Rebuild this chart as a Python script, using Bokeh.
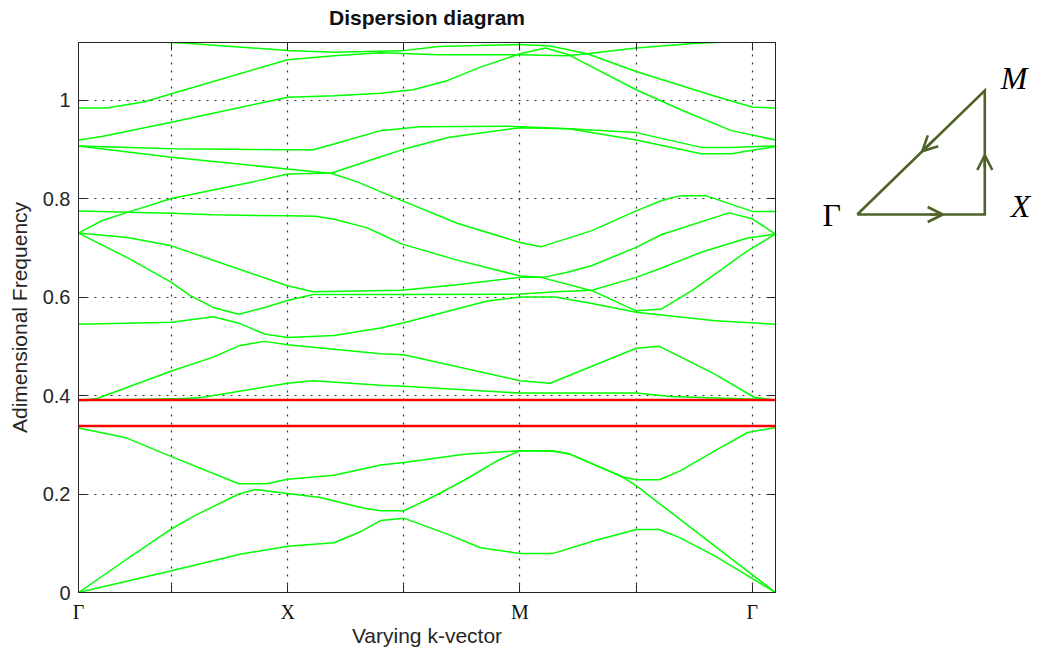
from bokeh.plotting import figure
from bokeh.models import Range1d, FixedTicker, LinearAxis, Span, NumeralTickFormatter, Arrow, OpenHead, CustomJSTickFormatter
from bokeh.layouts import row
from bokeh.embed import file_html
from bokeh.resources import INLINE
from bokeh.core.properties import value

# ---------------- data ----------------
k_min, k_max, f_max = 1, 31, 1.117
k_ticks = [5, 10, 15, 20, 25, 30]
f_ticks = [0, 0.2, 0.4, 0.6, 0.8, 1.0]
sym_labels = ["Γ", "X", "M", "Γ"]
sym_k = [1, 10, 20, 30]
gap_edges = [0.338, 0.391]

band1_k = [1, 5, 8, 10, 12, 13.2, 14, 15, 16.9, 18.3, 20, 21.4, 23.2, 25, 26, 26.9, 28.4, 31]
band1_f = [0, 0.044, 0.078, 0.094, 0.101, 0.125, 0.146, 0.151, 0.118, 0.091, 0.079, 0.079, 0.105, 0.128, 0.128, 0.111, 0.074, 0]

band2_k = [1, 3, 5, 6, 7.9, 8.6, 10, 11.4, 13.2, 14, 15, 16.2, 17.6, 19, 20, 21.4, 22.1, 24.4, 25, 31]
band2_f = [0, 0.065, 0.129, 0.156, 0.200, 0.209, 0.201, 0.193, 0.172, 0.166, 0.166, 0.193, 0.228, 0.267, 0.288, 0.288, 0.282, 0.235, 0.217, 0]

band3_k = [1, 3, 5, 7.9, 9.1, 10, 12, 14, 15, 17.6, 20, 21.4, 22.1, 24.4, 25, 26, 26.9, 28.4, 29.8, 31]
band3_f = [0.334, 0.315, 0.276, 0.221, 0.221, 0.230, 0.238, 0.259, 0.264, 0.281, 0.288, 0.287, 0.282, 0.235, 0.229, 0.229, 0.247, 0.288, 0.325, 0.335]

band4_k = [1, 5.5, 6.3, 10, 11.1, 14, 15, 20, 25, 26.5, 28.4, 31]
band4_f = [0.390, 0.394, 0.396, 0.425, 0.430, 0.421, 0.419, 0.405, 0.405, 0.398, 0.395, 0.391]

band5_k = [1, 1.8, 5, 6.8, 7.9, 9, 10, 12, 14, 15, 20, 21.3, 25, 26, 28.4, 30.1, 31]
band5_f = [0.390, 0.394, 0.450, 0.478, 0.501, 0.510, 0.503, 0.494, 0.485, 0.483, 0.430, 0.425, 0.496, 0.500, 0.443, 0.396, 0.391]

band6_k = [1, 5, 6.8, 7.9, 9, 10, 12, 14, 15, 18.6, 20, 21.5, 23.1, 25, 28.4, 31]
band6_f = [0.545, 0.549, 0.560, 0.547, 0.525, 0.518, 0.522, 0.537, 0.548, 0.592, 0.600, 0.600, 0.587, 0.569, 0.552, 0.545]

band7_k = [1, 3.1, 5, 5.8, 6.8, 7.9, 9, 10, 11.1, 14.9, 20, 21.6, 23.1, 25, 26.1, 27.8, 29.8, 31]
band7_f = [0.730, 0.680, 0.630, 0.603, 0.579, 0.565, 0.579, 0.593, 0.605, 0.605, 0.606, 0.611, 0.614, 0.640, 0.659, 0.691, 0.720, 0.728]

band8_k = [1, 3.1, 5, 7.7, 10, 11.1, 14.9, 17.3, 20, 21, 22, 23.1, 25, 26.1, 29, 30, 31]
band8_f = [0.730, 0.721, 0.704, 0.660, 0.623, 0.611, 0.614, 0.625, 0.640, 0.640, 0.650, 0.664, 0.701, 0.727, 0.771, 0.759, 0.728]

band9_k = [1, 5, 6.8, 10, 11.2, 12, 13.4, 14, 14.9, 17.3, 20, 20.9, 23.1, 25, 26.1, 27.4, 29.8, 31]
band9_f = [0.775, 0.770, 0.767, 0.765, 0.764, 0.758, 0.741, 0.728, 0.708, 0.675, 0.643, 0.640, 0.613, 0.572, 0.576, 0.613, 0.694, 0.728]

band10_k = [1, 5, 10, 11.9, 13, 14.45, 17.3, 20, 20.9, 23.1, 25, 26.1, 26.9, 28, 30, 31]
band10_f = [0.907, 0.884, 0.860, 0.851, 0.834, 0.805, 0.750, 0.711, 0.702, 0.735, 0.775, 0.796, 0.806, 0.806, 0.774, 0.774]

band11_k = [1, 2, 3.1, 5, 8.7, 10, 11.9, 14, 15, 16.9, 20, 22.1, 25, 27.8, 29.1, 30, 31]
band11_f = [0.730, 0.755, 0.772, 0.800, 0.836, 0.850, 0.852, 0.885, 0.900, 0.924, 0.944, 0.942, 0.919, 0.891, 0.891, 0.898, 0.906]

band12_k = [1, 5, 10, 11.1, 12, 14, 15.7, 19.5, 22.1, 25, 27.8, 29.1, 31]
band12_f = [0.907, 0.901, 0.899, 0.899, 0.911, 0.938, 0.946, 0.947, 0.942, 0.934, 0.904, 0.904, 0.907]

band13_k = [1, 2, 5, 10, 12, 14, 15.4, 16.9, 18.3, 20, 21.1, 22.1, 25, 27, 29.1, 31]
band13_f = [0.919, 0.926, 0.955, 1.006, 1.009, 1.014, 1.021, 1.040, 1.067, 1.094, 1.106, 1.092, 1.021, 0.979, 0.938, 0.919]

band14_k = [1, 2.2, 3.8, 5, 10, 12, 14, 16.5, 20, 22, 22.9, 25, 27.5, 28.4, 31]
band14_f = [0.984, 0.984, 0.996, 1.013, 1.082, 1.090, 1.096, 1.092, 1.092, 1.090, 1.094, 1.106, 1.115, 1.117, 1.135]

band15_k = [1, 4.4, 5.5, 10, 12, 14.9, 16.5, 20, 21.3, 22.9, 25, 28.4, 30, 31]
band15_f = [1.135, 1.118, 1.116, 1.101, 1.097, 1.100, 1.109, 1.113, 1.110, 1.094, 1.058, 1.008, 0.986, 0.984]

bands = [(band1_k, band1_f), (band2_k, band2_f), (band3_k, band3_f), (band4_k, band4_f),
         (band5_k, band5_f), (band6_k, band6_f), (band7_k, band7_f), (band8_k, band8_f),
         (band9_k, band9_f), (band10_k, band10_f), (band11_k, band11_f), (band12_k, band12_f),
         (band13_k, band13_f), (band14_k, band14_f), (band15_k, band15_f)]

# inset: irreducible Brillouin zone path (unit triangle)
ibz_names = ["Γ", "X", "M"]
ibz_x = [0, 1, 1]
ibz_y = [0, 0, 1]
arrow_frac = [0.67, 0.48, 0.49]

# ---------------- styles ----------------
GREEN = "#00ff00"
RED = "#ff0000"
AX = "#262626"
OLIVE = "#4f6228"
SANS = "Liberation Sans"
SERIF = "Liberation Serif"
FS = "20px"
FL = "21px"

p = figure(width=790, height=654, output_backend="svg", toolbar_location=None,
           x_range=Range1d(k_min, k_max), y_range=Range1d(0, f_max),
           min_border_left=78, min_border_right=15, min_border_top=42, min_border_bottom=62,
           background_fill_color="white", border_fill_color="white")

p.title.text = "Dispersion diagram"
p.title.text_font = SANS
p.title.text_font_size = "21px"
p.title.text_font_style = "bold"
p.title.text_color = "#111111"
p.title.align = "center"
p.title.standoff = 2

p.outline_line_color = AX
p.outline_line_width = 1

xa = p.below[0]
ya = p.left[0]
xa.ticker = FixedTicker(ticks=[sym_k[0]] + k_ticks)
ya.ticker = FixedTicker(ticks=f_ticks)
ya.formatter = NumeralTickFormatter(format="0.[0]")
xa.formatter = CustomJSTickFormatter(args=dict(ks=sym_k, ls=sym_labels),
                                     code="const i = ks.indexOf(tick); return i >= 0 ? ls[i] : '';")

# top axis: blank (space) labels only to keep a gap between frame and title
top = LinearAxis(ticker=FixedTicker(ticks=k_ticks), formatter=CustomJSTickFormatter(code="return ' '"))
right = LinearAxis(ticker=FixedTicker(ticks=f_ticks), formatter=CustomJSTickFormatter(code="return ''"))
p.add_layout(top, "above")
p.add_layout(right, "right")

for ax in (xa, ya, top, right):
    ax.axis_line_color = AX
    ax.major_tick_line_color = AX
    ax.major_tick_in = 8
    ax.major_tick_out = 0
    ax.minor_tick_line_color = None
    ax.major_label_text_font = SANS
    ax.major_label_text_font_size = FS
    ax.major_label_text_color = "#262626"
for ax in (top, right):
    ax.major_label_text_font_size = "1px"
    ax.major_label_standoff = 0
top.major_label_standoff = 9
ya.major_label_standoff = 8
xa.major_label_text_font = SERIF
xa.major_label_text_font_size = "20px"
xa.major_label_text_color = "#111111"
xa.major_label_standoff = 8

xa.axis_label = "Varying k-vector"
ya.axis_label = "Adimensional Frequency"
for ax in (xa, ya):
    ax.axis_label_text_font = SANS
    ax.axis_label_text_font_size = FL
    ax.axis_label_text_font_style = "normal"
    ax.axis_label_text_color = "#262626"
xa.axis_label_standoff = -2
ya.axis_label_standoff = 9

p.xgrid.ticker = FixedTicker(ticks=k_ticks)
p.ygrid.ticker = FixedTicker(ticks=f_ticks)
for g in (p.xgrid, p.ygrid):
    g.grid_line_color = "#333333"
    g.grid_line_dash = "2 6"
    g.grid_line_width = 1.2

for kk, ff in bands:
    p.line(kk, ff, line_color=GREEN, line_width=1.5)

for g in gap_edges:
    p.add_layout(Span(location=g, dimension="width", line_color=RED, line_width=2.5))

# ---------------- inset (frame is aligned with the main frame rows) ----------------
q = figure(width=248, height=654, output_backend="svg", toolbar_location=None,
           x_range=Range1d(-0.523, 1.421), y_range=Range1d(-3.048, 1.387),
           x_axis_location=None, y_axis_location=None,
           min_border_left=0, min_border_right=0, min_border_top=0, min_border_bottom=0,
           outline_line_color=None, background_fill_color="white", border_fill_color="white")
q.grid.visible = False

q.line(ibz_x + [ibz_x[0]], ibz_y + [ibz_y[0]], line_color=OLIVE, line_width=2.6, line_join="miter")
n = len(ibz_x)
for i in range(n):
    x0, y0 = ibz_x[i], ibz_y[i]
    x1, y1 = ibz_x[(i + 1) % n], ibz_y[(i + 1) % n]
    t = arrow_frac[i]
    xe, ye = x0 + t * (x1 - x0), y0 + t * (y1 - y0)
    xs, ys = x0 + (t - 0.1) * (x1 - x0), y0 + (t - 0.1) * (y1 - y0)
    q.add_layout(Arrow(end=OpenHead(size=15, line_color=OLIVE, line_width=2.6),
                       x_start=xs, y_start=ys, x_end=xe, y_end=ye,
                       line_color=OLIVE, line_width=2.6))

lab_dx = [-0.20, 0.28, 0.23]
lab_dy = [0.0, 0.065, 0.10]
for name, vx, vy, dx, dy in zip(ibz_names, ibz_x, ibz_y, lab_dx, lab_dy):
    q.text(x=[vx + dx], y=[vy + dy], text=[name], text_font=value(SERIF), text_font_size="32px",
           text_font_style="normal" if name == "Γ" else "italic",
           text_align="center", text_baseline="middle", text_color="#000000")

layout = row(p, q)
open("out.html", "w").write(file_html(layout, INLINE))
